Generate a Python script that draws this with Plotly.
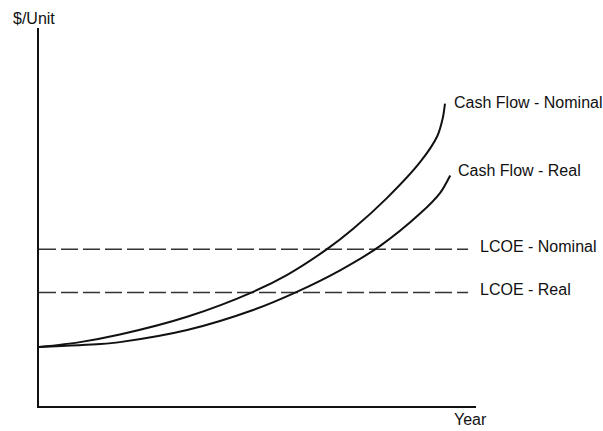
import plotly.graph_objects as go

# Data (x: relative time 0-100, y: relative $/unit 0-100)
nominal_x = [0, 9.4, 18.5, 33.9, 49.0, 56.8, 65.9, 71.9, 79.6, 87.2, 91.1, 92.4, 92.9]
nominal_y = [15.6, 16.9, 18.9, 23.6, 30.2, 34.7, 41.5, 46.9, 55.0, 64.5, 71.3, 76.2, 80.0]
real_x = [0, 14.0, 18.5, 33.9, 49.0, 59.0, 68.9, 78.0, 87.2, 91.8, 94.1]
real_y = [15.6, 16.4, 16.9, 20.1, 25.4, 30.2, 35.9, 42.3, 50.9, 56.4, 61.0]
lcoe_x = [0, 98.2]
lcoe_nominal = [41.5, 41.5]
lcoe_real = [30.0, 30.0]

labels = {
    "cf_nom": "Cash Flow - Nominal",
    "cf_real": "Cash Flow - Real",
    "lcoe_nom": "LCOE - Nominal",
    "lcoe_real": "LCOE - Real",
}

FONT = "Liberation Sans, Arial, sans-serif"
INK = "#111111"

fig = go.Figure()
fig.add_trace(go.Scatter(x=lcoe_x, y=lcoe_nominal, mode="lines",
                         line=dict(color="#333333", width=1.5, dash="17px,5px"),
                         showlegend=False, hoverinfo="skip"))
fig.add_trace(go.Scatter(x=lcoe_x, y=lcoe_real, mode="lines",
                         line=dict(color="#333333", width=1.5, dash="17px,5px"),
                         showlegend=False, hoverinfo="skip"))
fig.add_trace(go.Scatter(x=nominal_x, y=nominal_y, mode="lines",
                         line=dict(color=INK, width=2, shape="spline", smoothing=0.8),
                         showlegend=False))
fig.add_trace(go.Scatter(x=real_x, y=real_y, mode="lines",
                         line=dict(color=INK, width=2, shape="spline", smoothing=0.8),
                         showlegend=False))

ann_font = dict(family=FONT, size=16, color=INK)
annotations = [
    dict(x=0.944, y=0.804, text=labels["cf_nom"], xanchor="left", yanchor="middle"),
    dict(x=0.955, y=0.624, text=labels["cf_real"], xanchor="left", yanchor="middle"),
    dict(x=1.004, y=0.423, text=labels["lcoe_nom"], xanchor="left", yanchor="middle"),
    dict(x=1.004, y=0.307, text=labels["lcoe_real"], xanchor="left", yanchor="middle"),
    dict(x=0.988, y=-0.037, text="Year", xanchor="center", yanchor="middle"),
    dict(x=-0.012, y=1.025, text="$/Unit", xanchor="center", yanchor="middle"),
]
for a in annotations:
    a.update(xref="paper", yref="paper", showarrow=False, font=ann_font)

fig.update_layout(
    width=603, height=431,
    margin=dict(l=39, r=127, t=28, b=25),
    paper_bgcolor="white", plot_bgcolor="white",
    annotations=annotations,
    xaxis=dict(range=[0, 100], showgrid=False, zeroline=False, showticklabels=False,
               ticks="", showline=True, linecolor=INK, linewidth=2, fixedrange=True),
    yaxis=dict(range=[0, 100], showgrid=False, zeroline=False, showticklabels=False,
               ticks="", showline=True, linecolor=INK, linewidth=1.5, fixedrange=True),
)

fig.write_html("out.html", config={"displayModeBar": False},
               post_script="document.body.style.margin='0';document.body.style.overflow='hidden';")
